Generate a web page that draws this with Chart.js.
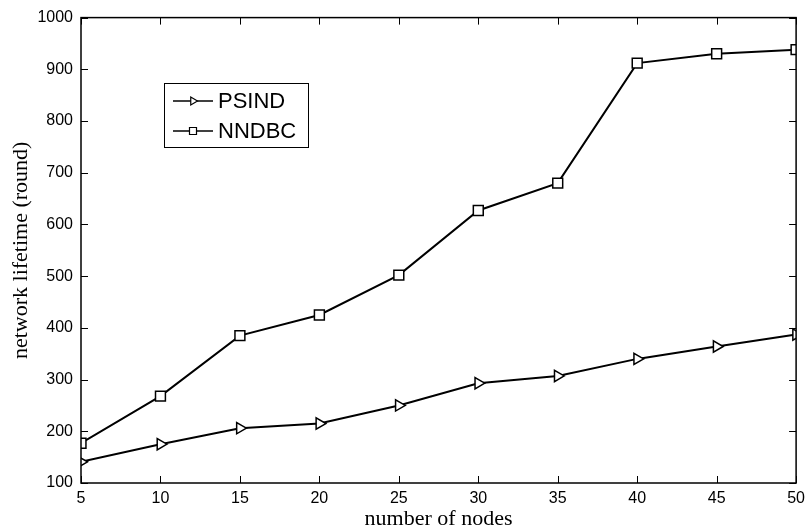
<!DOCTYPE html>
<html>
<head>
<meta charset="utf-8">
<script src="https://cdn.jsdelivr.net/npm/chart.js@4/dist/chart.umd.min.js"></script>
<style>
  html, body { margin: 0; padding: 0; background: #fff; }
  #wrap { width: 811px; height: 531px; }
</style>
</head>
<body>
<div id="wrap"><canvas id="lifetime-chart" width="811" height="531"></canvas></div>
<script>
// Donnees
const nodes = [5, 10, 15, 20, 25, 30, 35, 40, 45, 50];
const psind = [141, 175, 206, 215, 250, 293, 307, 340, 364, 387];
const nndbc = [177, 268, 385, 425, 502, 627, 680, 912, 930, 938];
const yTicks = [100, 200, 300, 400, 500, 600, 700, 800, 900, 1000];

const toPoints = (values) => values.map((v, i) => ({ x: nodes[i], y: v }));

// Cadre et graduations vers l'interieur (style MATLAB)
const boxTicks = {
    id: 'boxTicks',
    afterDatasetsDraw(chart) {
        const { ctx, chartArea: a, scales: { x, y } } = chart;
        const len = 7;
        ctx.save();
        ctx.strokeStyle = '#000';
        ctx.lineWidth = 1.5;
        ctx.strokeRect(a.left, a.top, a.right - a.left, a.bottom - a.top);
        ctx.lineWidth = 1;
        ctx.beginPath();
        nodes.forEach(n => {
            const px = Math.round(x.getPixelForValue(n)) + 0.5;
            ctx.moveTo(px, a.bottom); ctx.lineTo(px, a.bottom - len);
            ctx.moveTo(px, a.top); ctx.lineTo(px, a.top + len);
        });
        yTicks.forEach(t => {
            const py = Math.round(y.getPixelForValue(t)) + 0.5;
            ctx.moveTo(a.left, py); ctx.lineTo(a.left + len, py);
            ctx.moveTo(a.right, py); ctx.lineTo(a.right - len, py);
        });
        ctx.stroke();
        ctx.restore();
    }
};

// Legende dessinee dans le graphique
const boxLegend = {
    id: 'boxLegend',
    afterDraw(chart) {
        const { ctx } = chart;
        const left = 164, top = 83, w = 144, h = 64;
        ctx.save();
        ctx.fillStyle = '#fff';
        ctx.fillRect(left, top, w, h);
        ctx.strokeStyle = '#000';
        ctx.lineWidth = 1;
        ctx.strokeRect(left + 0.5, top + 0.5, w, h);
        chart.data.datasets.forEach((ds, i) => {
            const cy = top + 18 + i * 30;
            const cx = 193;
            ctx.beginPath();
            ctx.lineWidth = 1.5;
            ctx.moveTo(173, cy); ctx.lineTo(213, cy);
            ctx.stroke();
            ctx.lineWidth = 1.2;
            ctx.fillStyle = '#fff';
            ctx.beginPath();
            if (ds.pointStyle === 'triangle') {
                const r = 4.5;
                ctx.moveTo(cx + r, cy);
                ctx.lineTo(cx - r / 2, cy - r * 0.866);
                ctx.lineTo(cx - r / 2, cy + r * 0.866);
                ctx.closePath();
            } else {
                ctx.rect(cx - 3.5, cy - 3.5, 7, 7);
            }
            ctx.fill();
            ctx.stroke();
            ctx.fillStyle = '#000';
            ctx.font = '22px "Liberation Sans", Arial, sans-serif';
            ctx.textBaseline = 'middle';
            ctx.fillText(ds.label, 218, cy + 1);
        });
        ctx.restore();
    }
};

const lifetimeChart = new Chart(
    document.getElementById('lifetime-chart'),
    {
        type: 'line',
        data: {
            datasets: [
                {
                    label: 'PSIND',
                    data: toPoints(psind),
                    borderColor: '#000',
                    borderWidth: 2,
                    pointStyle: 'triangle',
                    pointRotation: 90,
                    pointRadius: 6.5,
                    pointBorderWidth: 1.5,
                    pointBackgroundColor: '#fff',
                    pointBorderColor: '#000',
                    tension: 0
                },
                {
                    label: 'NNDBC',
                    data: toPoints(nndbc),
                    borderColor: '#000',
                    borderWidth: 2,
                    pointStyle: 'rect',
                    pointRadius: 7,
                    pointBorderWidth: 1.5,
                    pointBackgroundColor: '#fff',
                    pointBorderColor: '#000',
                    tension: 0
                }
            ]
        },
        options: {
            animation: false,
            responsive: false,
            devicePixelRatio: 1,
            layout: { padding: { left: 0, top: 15, right: 8, bottom: 0 } },
            plugins: {
                legend: { display: false },
                tooltip: { enabled: false }
            },
            scales: {
                x: {
                    type: 'linear',
                    min: 5,
                    max: 50,
                    afterFit: (s) => { s.height = 48; },
                    afterBuildTicks: (s) => { s.ticks = nodes.map(v => ({ value: v })); },
                    grid: { display: false, drawTicks: false },
                    border: { display: false },
                    ticks: {
                        color: '#000',
                        padding: 6,
                        maxRotation: 0,
                        callback: (v) => String(v),
                        font: { family: '"Liberation Sans", Arial, sans-serif', size: 16 }
                    },
                    title: {
                        display: true,
                        text: 'number of nodes',
                        color: '#000',
                        padding: { top: 0, bottom: -1 },
                        font: { family: '"Liberation Serif", "Times New Roman", serif', size: 22 }
                    }
                },
                y: {
                    min: 100,
                    max: 1000,
                    afterFit: (s) => { s.width = 81; },
                    afterBuildTicks: (s) => { s.ticks = yTicks.map(v => ({ value: v })); },
                    grid: { display: false, drawTicks: false },
                    border: { display: false },
                    ticks: {
                        color: '#000',
                        padding: 8,
                        callback: (v) => String(v),
                        font: { family: '"Liberation Sans", Arial, sans-serif', size: 16 }
                    },
                    title: {
                        display: true,
                        text: 'network lifetime (round)',
                        color: '#000',
                        padding: { top: 8, bottom: 0 },
                        font: { family: '"Liberation Serif", "Times New Roman", serif', size: 22 }
                    }
                }
            }
        },
        plugins: [boxTicks, boxLegend]
    }
);
</script>
</body>
</html>
